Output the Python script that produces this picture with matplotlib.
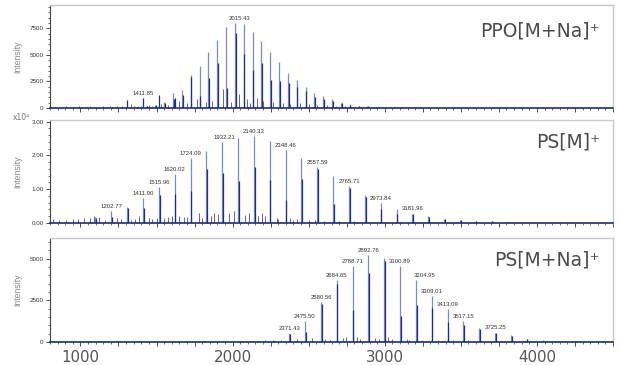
import matplotlib
matplotlib.use("Agg")
import matplotlib.pyplot as plt
from matplotlib.ticker import MultipleLocator, FuncFormatter

# ---------------- data ----------------
# PPO [M+Na]+ main oligomer series (m/z, intensity, fraction of darker isotope trace)
ppo_mz = [1377.0, 1435.0, 1493.1, 1551.1, 1609.1, 1667.2, 1725.2, 1783.3, 1841.3, 1899.3,
          1957.4, 2015.43, 2073.5, 2131.5, 2189.6, 2247.6, 2305.6, 2363.7, 2421.7, 2479.8,
          2537.8, 2595.8, 2653.9, 2711.9, 2770.0, 2828.0, 2886.1, 2944.1, 3002.1, 3060.2,
          3118.2, 3176.3]
ppo_int = [150, 220, 300, 550, 1440, 1690, 3065, 4000, 5250, 6410,
           7590, 7970, 7910, 7190, 6320, 5310, 4310, 3310, 2590, 2000,
           1440, 1090, 810, 500, 350, 200, 180, 120, 90, 70,
           50, 40]
ppo_dark = [0.9, 0.9, 0.9, 0.9, 0.6, 0.7, 0.95, 0.28, 0.54, 0.66,
            0.25, 0.89, 0.64, 0.5, 0.67, 0.5, 0.6, 0.7, 0.75, 0.8,
            0.7, 0.8, 0.8, 0.9, 0.9, 0.9, 0.9, 0.9, 0.9, 0.9,
            0.9, 0.9]
# other series in the PPO spectrum
ppo_side_mz = [1307.8, 1411.85, 1515.9, 1620.0]
ppo_side_int = [720, 970, 1190, 975]
ppo_minor_mz = [830, 870, 905, 950, 990, 1030, 1065, 1100, 1150, 1195,
                1240, 1275, 1330, 1350, 1395, 1450, 1470, 1530, 1575, 1650,
                1700, 1764, 1823, 1862, 1939, 1990, 2042, 2097, 2115, 2158,
                2202, 2265, 2330, 2380, 2440, 2500, 2555, 2620, 2680, 2740,
                2800, 2860, 2920, 2980, 3040, 3100, 3160, 3230, 3300, 3380]
ppo_minor_int = [120, 90, 150, 110, 160, 130, 180, 140, 170, 200,
                 150, 180, 350, 160, 220, 250, 180, 330, 300, 660,
                 500, 815, 580, 700, 1750, 600, 1340, 810, 500, 970,
                 660, 550, 450, 400, 450, 350, 300, 250, 200, 150,
                 130, 110, 100, 80, 70, 60, 50, 50, 40, 40]
ppo_labels = [1411.85, 2015.43]

# PS [M]+ (intensity in units of 1e4)
ps_mz = [1098.7, 1202.77, 1306.8, 1411.90, 1515.96, 1620.02, 1724.09, 1828.15, 1932.21, 2036.27,
         2140.33, 2244.40, 2348.46, 2452.52, 2557.59, 2661.65, 2765.71, 2869.78, 2973.84, 3077.90,
         3181.96, 3286.0, 3390.1, 3494.1, 3598.2, 3702.2, 3806.3]
ps_int = [0.18, 0.35, 0.48, 0.75, 1.07, 1.45, 1.92, 2.14, 2.39, 2.51,
          2.57, 2.43, 2.16, 1.93, 1.67, 1.40, 1.09, 0.82, 0.60, 0.42,
          0.28, 0.20, 0.13, 0.09, 0.06, 0.05, 0.03]
ps_dark = [0.9, 0.5, 0.9, 0.59, 0.77, 0.6, 0.49, 0.75, 0.62, 0.49,
           0.65, 0.53, 0.32, 0.67, 0.95, 0.4, 0.95, 0.95, 0.67, 0.6,
           0.9, 0.9, 0.9, 0.9, 0.9, 0.9, 0.9]
ps_minor_mz = [822, 860, 905, 950, 985, 1025, 1060, 1091, 1125, 1160,
               1240, 1265, 1330, 1360, 1385, 1450, 1470, 1500, 1550, 1575,
               1600, 1645, 1680, 1700, 1779, 1800, 1860, 1875, 1905, 1978,
               2010, 2082, 2110, 2165, 2190, 2210, 2290, 2300, 2380, 2400,
               2420, 2500, 2540, 2600, 2700, 2800, 2900, 3000, 3100]
ps_minor_int = [0.12, 0.08, 0.1, 0.13, 0.12, 0.15, 0.14, 0.22, 0.18, 0.1,
                0.16, 0.12, 0.1, 0.13, 0.2, 0.14, 0.12, 0.16, 0.15, 0.18,
                0.2, 0.2, 0.19, 0.18, 0.3, 0.15, 0.2, 0.3, 0.28, 0.3,
                0.35, 0.25, 0.3, 0.2, 0.3, 0.2, 0.15, 0.12, 0.14, 0.1,
                0.12, 0.1, 0.08, 0.07, 0.06, 0.05, 0.04, 0.03, 0.03]
ps_labels = [1202.77, 1411.90, 1515.96, 1620.02, 1724.09, 1932.21, 2140.33,
             2348.46, 2557.59, 2765.71, 2973.84, 3181.96]

# PS [M+Na]+
na_mz = [2163.3, 2267.4, 2371.43, 2475.50, 2580.56, 2684.65, 2788.71, 2892.76, 2996.8, 3100.89,
         3204.95, 3309.01, 3413.09, 3517.15, 3621.2, 3725.25, 3829.3, 3933.4, 4037.4, 4141.5,
         4245.5]
na_int = [60, 100, 550, 1280, 2380, 3700, 4570, 5220, 5040, 4570,
          3700, 2740, 1990, 1260, 850, 570, 410, 200, 100, 70,
          40]
na_dark = [0.9, 0.9, 0.9, 0.48, 0.95, 0.95, 0.42, 0.8, 0.97, 0.34,
           0.6, 0.74, 0.61, 0.8, 0.95, 0.9, 0.9, 0.9, 0.9, 0.9,
           0.9]
na_minor_mz = [850, 950, 1050, 1150, 1250, 1350, 1450, 1550, 1650, 1750,
               1850, 1950, 2050, 2120, 2210, 2320, 2420, 2520, 2607, 2640,
               2728, 2745, 2816, 2840, 2936, 2960, 3023, 3050, 3144, 3160,
               3243, 3352, 3451, 3549, 3660, 3770, 3880, 3990, 4100, 4200,
               4300, 4400]
na_minor_int = [40, 50, 40, 60, 50, 40, 60, 50, 40, 60,
                50, 40, 60, 80, 100, 150, 200, 250, 200, 150,
                250, 300, 300, 200, 250, 200, 300, 200, 200, 150,
                150, 120, 100, 100, 80, 70, 60, 50, 40, 40,
                30, 30]
na_labels = [2371.43, 2475.50, 2580.56, 2684.65, 2788.71, 2892.76, 3100.89,
             3204.95, 3309.01, 3413.09, 3517.15, 3725.25]

x_range = (800, 4500)

# ---------------- styling ----------------
DARK = "#1c2d8a"
LIGHT = "#7f88cc"
MID = "#3a4ba6"
BASE = "#1f2a6e"
FONT = ["Liberation Sans", "DejaVu Sans"]

fig = plt.figure(figsize=(6.2, 3.65), dpi=100)
W, H = 620.0, 365.0
left, right = 50, 613
boxes = [(5, 108), (120, 223), (238, 342)]
axes = [fig.add_axes([left / W, 1 - b / H, (right - left) / W, (b - t) / H]) for t, b in boxes]


def draw_peaks(ax, mz, inten, dark, side_mz, side_int, minor_mz, minor_int, labels,
               fmt, label_dx=None):
    label_dx = label_dx or {}
    ax.vlines(minor_mz, 0, minor_int, color=MID, lw=0.7, alpha=0.85)
    if side_mz:
        ax.vlines(side_mz, 0, side_int, color=DARK, lw=0.9)
    ax.vlines(mz, 0, inten, color=LIGHT, lw=0.9)
    ax.vlines([m + 4 for m in mz], 0, [h * f for h, f in zip(inten, dark)], color=DARK, lw=0.9)
    lookup = dict(zip(list(mz) + list(side_mz), list(inten) + list(side_int)))
    for m in labels:
        h = lookup[m]
        ax.annotate(fmt.format(m), xy=(m, h), xytext=(label_dx.get(m, 0), 1.5),
                    textcoords="offset points", ha="center", va="bottom",
                    fontsize=4.3, color="#333333", family=FONT)


draw_peaks(axes[0], ppo_mz, ppo_int, ppo_dark, ppo_side_mz, ppo_side_int,
           ppo_minor_mz, ppo_minor_int, ppo_labels, "{:.2f}", {2015.43: 3.5})
draw_peaks(axes[1], ps_mz, ps_int, ps_dark, [], [], ps_minor_mz, ps_minor_int,
           ps_labels, "{:.2f}", {1932.21: 1.5})
draw_peaks(axes[2], na_mz, na_int, na_dark, [], [], na_minor_mz, na_minor_int,
           na_labels, "{:.2f}", {3204.95: 6})

ylims = [(0, 9700), (0, 3.05), (0, 6250)]
ymajor = [2500, 1.0, 2500]
yminor = [500, 0.2, 500]
titles = ["PPO[M+Na]\u207a", "PS[M]\u207a", "PS[M+Na]\u207a"]
title_y = [0.692, 0.731, 0.74]

for i, ax in enumerate(axes):
    ax.set_xlim(*x_range)
    ax.set_ylim(*ylims[i])
    ax.xaxis.set_major_locator(MultipleLocator(250))
    ax.xaxis.set_minor_locator(MultipleLocator(50))
    ax.yaxis.set_major_locator(MultipleLocator(ymajor[i]))
    ax.yaxis.set_minor_locator(MultipleLocator(yminor[i]))
    if i == 1:
        ax.yaxis.set_major_formatter(FuncFormatter(lambda v, p: f"{v:.2f}"))
    else:
        ax.yaxis.set_major_formatter(FuncFormatter(lambda v, p: f"{v:.0f}"))
    ax.tick_params(axis="both", which="major", direction="out", length=3, width=0.6,
                   color="#333333", labelsize=4.5, labelcolor="#333333", pad=1.5)
    ax.tick_params(axis="both", which="minor", direction="out", length=1.6, width=0.5,
                   color="#333333")
    for lab in ax.get_yticklabels():
        lab.set_family(FONT)
    if i < 2:
        ax.tick_params(axis="x", labelbottom=False)
    else:
        ax.xaxis.set_major_formatter(
            FuncFormatter(lambda v, p: f"{v:.0f}" if abs(v % 1000) < 1e-6 else ""))
        ax.tick_params(axis="x", which="major", labelsize=10.8, labelcolor="#555555", pad=3)
    ax.spines["left"].set_color("#444444")
    ax.spines["left"].set_linewidth(0.8)
    ax.spines["bottom"].set_color(BASE)
    ax.spines["bottom"].set_linewidth(1.2)
    for s in ("top", "right"):
        ax.spines[s].set_color("#c8c8c8")
        ax.spines[s].set_linewidth(1.0)
    ax.set_ylabel("Intensity", fontsize=6.3, color="#888888", family=FONT)
    ax.yaxis.set_label_coords(-0.049, 0.5)
    ax.text(0.977, title_y[i], titles[i], transform=ax.transAxes, ha="right",
            va="baseline", fontsize=13.5, color="#4a4a4a")

fig.text(13 / W, 1 - 120.5 / H, "x10\u2074", fontsize=5.5, color="#777777",
         ha="left", va="baseline")

fig.savefig("out.png", dpi=100)
